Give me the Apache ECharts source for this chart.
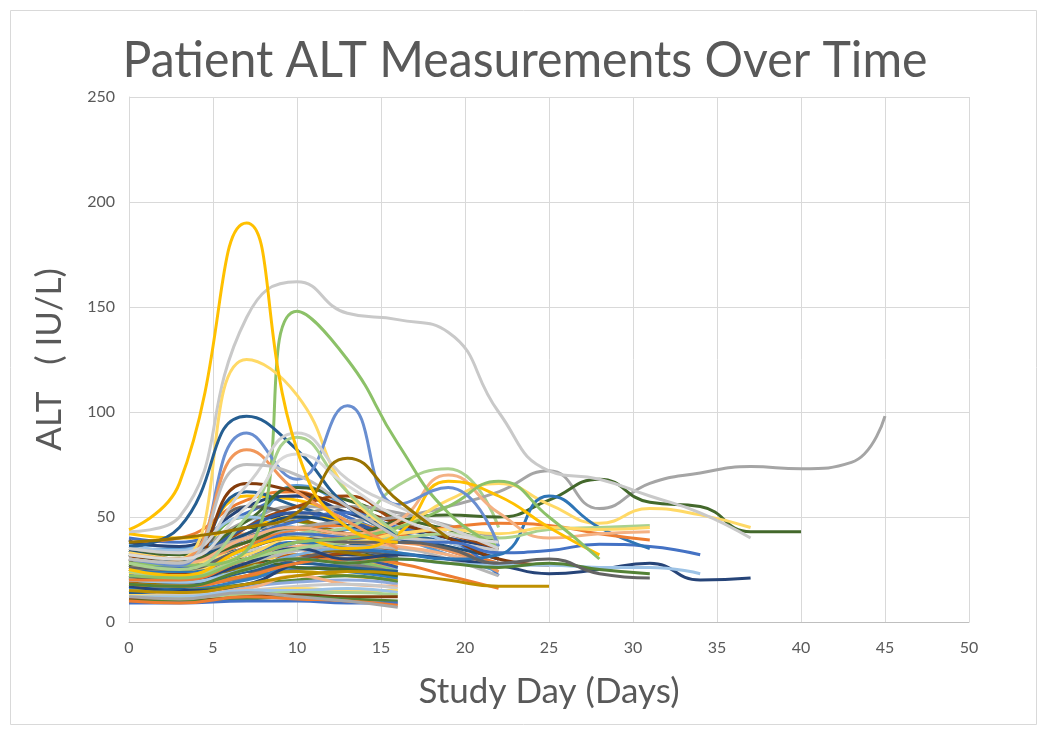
<!DOCTYPE html>
<html>
<head>
<meta charset="utf-8">
<script src="https://cdn.jsdelivr.net/npm/echarts@6/dist/echarts.min.js"></script>
<style>html,body{margin:0;padding:0;background:#fff}#c{width:1050px;height:736px}</style>
</head>
<body>
<div id="c"></div>
<script>
// ---------------- DATA ----------------
const TITLE = 'Patient ALT Measurements Over Time';
const X_NAME = 'Study Day (Days)';
const Y_NAME = 'ALT   ( IU/L)';
const X_TICKS = [0, 5, 10, 15, 20, 25, 30, 35, 40, 45, 50];
const Y_TICKS = [0, 50, 100, 150, 200, 250];
// sampling days shared by all patients (a patient's list stops at its last visit)
const DAYS = [0, 3, 7, 10, 13, 16, 19, 22, 25, 28, 31, 34, 37, 40, 43, 45];

// patients followed to day 16
const baselinePatients = [
  [40, 38, 52, 60, 50, 40], [38, 40, 58, 62, 45, 36], [36, 34, 48, 55, 52, 38],
  [35, 32, 60, 58, 48, 34], [34, 35, 45, 65, 55, 42], [33, 30, 50, 48, 40, 32],
  [32, 28, 42, 52, 45, 35], [31, 30, 40, 45, 42, 30], [30, 26, 55, 50, 38, 28],
  [29, 27, 38, 48, 40, 32], [28, 30, 35, 42, 38, 33], [27, 22, 45, 40, 35, 30],
  [26, 25, 32, 38, 36, 28], [25, 24, 42, 35, 30, 26], [24, 22, 30, 36, 32, 29],
  [23, 24, 28, 32, 30, 27], [22, 21, 33, 30, 28, 25], [21, 20, 26, 30, 29, 24],
  [20, 20, 24, 28, 30, 26], [19, 18, 22, 32, 28, 22], [18, 18, 21, 25, 27, 23],
  [17, 17, 22, 24, 22, 20], [16, 16, 20, 26, 24, 21], [15, 15, 18, 20, 22, 19],
  [15, 14, 17, 19, 20, 18], [14, 14, 16, 22, 18, 17], [13, 13, 15, 17, 18, 16],
  [13, 12, 14, 16, 15, 15], [12, 12, 15, 15, 16, 14], [11, 11, 13, 14, 14, 13],
  [11, 10, 12, 13, 12, 12], [10, 10, 11, 12, 11, 10], [9, 9, 10, 10, 9, 9],
  [10, 9, 12, 11, 10, 8], [12, 11, 14, 12, 10, 7], [42, 40, 45, 50, 48, 40],
  [37, 36, 40, 44, 46, 38], [20, 22, 35, 40, 36, 30], [17, 15, 18, 28, 32, 30],
  [24, 25, 28, 30, 33, 35], [39, 28, 24, 30, 34, 31], [18, 20, 27, 35, 33, 29],
  [14, 16, 24, 28, 26, 24], [21, 19, 30, 26, 25, 22]
];

// patients followed to day 19-25
const midPatients = [
  [38, 36, 55, 60, 52, 45, 40, 35], [30, 28, 62, 55, 48, 42, 38, 30],
  [34, 32, 48, 64, 58, 50, 44, 38], [25, 23, 45, 55, 60, 48, 42, 35],
  [28, 30, 42, 50, 55, 52, 46, 40], [36, 34, 50, 45, 42, 46, 38, 32],
  [22, 21, 36, 44, 46, 42, 35, 28], [26, 25, 40, 48, 52, 45, 40, 22],
  [20, 19, 30, 38, 44, 40, 32, 24], [32, 30, 45, 52, 48, 40, 34, 26],
  [20, 19, 25, 32, 35, 33, 30, 28], [28, 26, 38, 44, 40, 38, 34, 24],
  [22, 22, 28, 34, 36, 35, 30, 22], [34, 30, 42, 50, 46, 40, 36, 30],
  [26, 24, 30, 36, 38, 36, 32, 26], [30, 28, 34, 38, 42, 40, 38, 34],
  [18, 17, 22, 28, 30, 28, 22, 16], [15, 14, 18, 22, 24, 23, 20, 17, 17],
  [25, 24, 66, 62, 55, 47, 40, 30, 27], [25, 24, 35, 42, 45, 65, 73, 45]
];

// patients followed beyond day 25
const longPatients = [
  [35, 33, 40, 45, 48, 50, 55, 62, 72, 54, 66, 71, 74, 73, 76, 98],
  [32, 30, 38, 45, 42, 48, 51, 50, 58, 68, 57, 55, 43, 43],
  [30, 28, 35, 42, 40, 45, 58, 66, 56, 47, 54, 51, 45],
  [22, 20, 28, 35, 30, 32, 30, 27, 23, 25, 28, 20, 21],
  [28, 26, 35, 42, 40, 38, 38, 33, 34, 37, 36, 32],
  [20, 19, 25, 30, 28, 30, 28, 27, 27, 26, 26, 23],
  [25, 24, 32, 38, 35, 33, 30, 32, 60, 45, 35],
  [20, 20, 30, 38, 40, 42, 45, 47, 46, 42, 39],
  [30, 28, 40, 45, 42, 48, 70, 52, 40, 42, 43],
  [24, 22, 30, 35, 38, 40, 42, 40, 44, 45, 46],
  [26, 25, 32, 40, 38, 42, 44, 42, 45, 44, 45],
  [18, 17, 25, 30, 28, 30, 28, 26, 28, 25, 23],
  [26, 25, 35, 40, 38, 38, 35, 28, 30, 23, 21],
  [25, 22, 35, 40, 35, 42, 67, 60, 45, 32],
  [22, 21, 30, 38, 40, 45, 55, 67, 50, 30]
];

// patients with the largest excursions
const peakPatients = [
  [43, 50, 145, 162, 147, 144, 138, 100, 72, 68, 60, 52, 40],
  [28, 27, 34, 148, 125, 85, 52, 36],
  [33, 30, 125, 108, 62, 42],
  [36, 45, 98, 82, 55, 42],
  [30, 27, 90, 68, 103, 56, 64, 36],
  [32, 30, 82, 62, 48, 35],
  [35, 33, 65, 90, 68, 55, 45, 35],
  [28, 25, 50, 88, 62, 42],
  [30, 28, 75, 70, 55, 40],
  [32, 30, 55, 80, 65, 50, 42, 38],
  [38, 40, 45, 52, 78, 58, 40],
  [44, 66, 190, 82, 45, 38]
];

// ---------------- STYLE ----------------
const PALETTE = ['#4472C4','#ED7D31','#A5A5A5','#FFC000','#5B9BD5','#70AD47',
  '#264478','#9E480E','#636363','#997300','#255E91','#43682B',
  '#698ED0','#F1975A','#B7B7B7','#FFCD33','#7CAFDD','#8CC168',
  '#335AA1','#BE5B17','#7C7C7C','#C49A00','#327DC2','#5A8A39',
  '#8FAADC','#F4B183','#C9C9C9','#FFD966','#9DC3E6','#A9D18E','#843C0C','#548235'];
const midColors = ['#264478','#255E91','#43682B','#9E480E','#A5A5A5','#9DC3E6',
  '#ED7D31','#4472C4','#5B9BD5','#335AA1','#7CAFDD','#F1975A','#B7B7B7','#1F4E79',
  '#F4B183','#C9C9C9','#ED7D31','#BF9000','#843C0C','#A9D18E'];
const longColors = ['#A5A5A5','#43682B','#FFD966','#264478','#4472C4','#9DC3E6',
  '#2E75B6','#ED7D31','#F4B183','#A9D18E','#FFD966','#548235','#636363','#FFC000','#8CC168'];
const peakColors = ['#C9C9C9','#8CC168','#FFD966','#255E91','#698ED0','#F1975A',
  '#D0D0D0','#A9D18E','#BFBFBF','#D9D9D9','#997300','#FFC000'];

const series = [];
function addGroup(list, colorOf) {
  list.forEach((vals, i) => {
    series.push({
      type: 'line', smooth: 0.5, showSymbol: false, silent: true,
      data: vals.map((v, k) => [DAYS[k], v]),
      lineStyle: { width: 3, color: colorOf(i) },
      itemStyle: { color: colorOf(i) }
    });
  });
}
addGroup(baselinePatients, i => PALETTE[i % PALETTE.length]);
addGroup(midPatients, i => midColors[i]);
addGroup(longPatients, i => longColors[i]);
addGroup(peakPatients, i => peakColors[i]);

// horizontally fit the title to the reference width
const titleFont = '50px Lato';
const ctx = document.createElement('canvas').getContext('2d');
ctx.font = titleFont;
const titleScale = 805 / ctx.measureText(TITLE).width;

const chart = echarts.init(document.getElementById('c'), null, { renderer: 'canvas' });
chart.setOption({
  animation: false,
  backgroundColor: '#fff',
  grid: { left: 129, right: 81, top: 97, bottom: 114, containLabel: false },
  xAxis: {
    type: 'value', min: X_TICKS[0], max: X_TICKS[X_TICKS.length - 1], interval: 5,
    name: X_NAME, nameLocation: 'middle', nameGap: 52,
    nameTextStyle: { fontFamily: 'Lato', fontSize: 35, color: '#595959' },
    axisLine: { show: true, lineStyle: { color: '#BFBFBF', width: 1 } },
    axisTick: { show: false },
    axisLabel: { margin: 18, fontFamily: 'Lato', fontSize: 16, color: '#595959' },
    splitLine: { show: true, lineStyle: { color: '#D9D9D9', width: 1 } }
  },
  yAxis: {
    type: 'value', min: Y_TICKS[0], max: Y_TICKS[Y_TICKS.length - 1], interval: 50,
    name: Y_NAME, nameLocation: 'middle', nameGap: 62,
    nameTextStyle: { fontFamily: 'Lato', fontSize: 35, color: '#595959' },
    axisLine: { show: true, lineStyle: { color: '#D9D9D9', width: 1 } },
    axisTick: { show: false },
    axisLabel: { margin: 14, fontFamily: 'Lato', fontSize: 16, color: '#595959' },
    splitLine: { show: true, lineStyle: { color: '#D9D9D9', width: 1 } }
  },
  graphic: [
    { type: 'rect', silent: true, z: -10,
      shape: { x: 10.5, y: 10.5, width: 1026, height: 714 },
      style: { fill: 'none', stroke: '#D9D9D9', lineWidth: 1 } },
    { type: 'text', x: 525, y: 61, scaleX: titleScale, silent: true,
      style: { text: TITLE, font: titleFont, fill: '#595959', align: 'center', verticalAlign: 'middle' } }
  ],
  series: series
});
</script>
</body>
</html>
